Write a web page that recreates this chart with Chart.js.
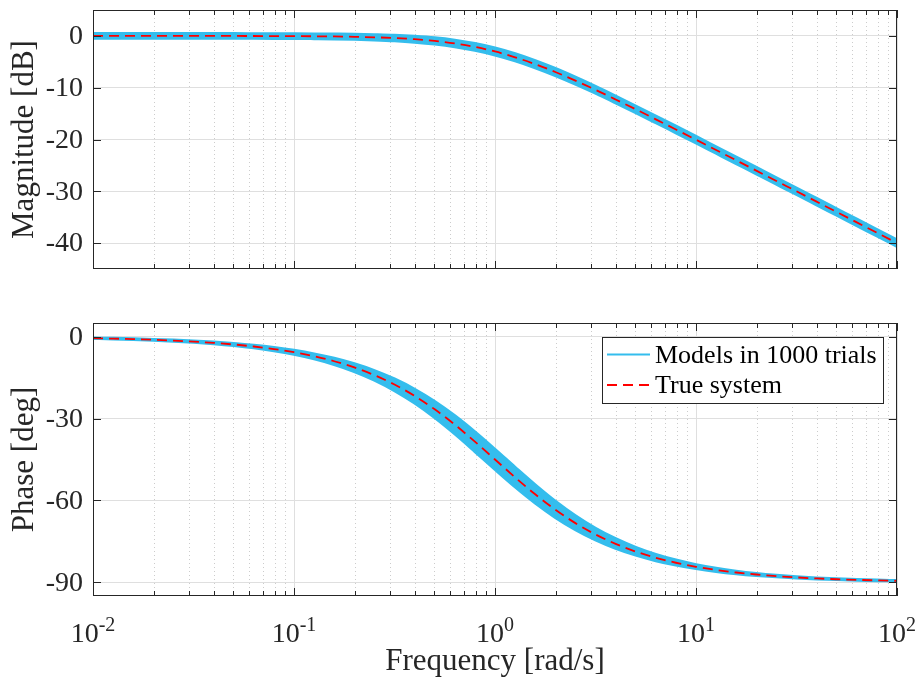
<!DOCTYPE html>
<html>
<head>
<meta charset="utf-8">
<script src="https://cdn.jsdelivr.net/npm/chart.js@4/dist/chart.umd.min.js"></script>
<style>
  html, body { margin: 0; padding: 0; background: #ffffff; }
  #wrap { position: relative; width: 921px; height: 690px; background: #ffffff; }
  .pane { position: absolute; left: 0; width: 921px; }
</style>
</head>
<body>
<div id="wrap">
  <div class="pane" style="top:0;height:300px"><canvas id="magChart" width="921" height="300"></canvas></div>
  <div class="pane" style="top:300px;height:390px"><canvas id="phaseChart" width="921" height="390"></canvas></div>
</div>
<script>
// ---------------- data ----------------
const freq = [0.01, 0.01259, 0.01585, 0.01995, 0.02512, 0.03162, 0.03981, 0.05012, 0.0631, 0.07943,
  0.1, 0.1259, 0.1585, 0.1995, 0.2512, 0.3162, 0.3981, 0.5012, 0.631, 0.7943,
  1, 1.259, 1.585, 1.995, 2.512, 3.162, 3.981, 5.012, 6.31, 7.943,
  10, 12.59, 15.85, 19.95, 25.12, 31.62, 39.81, 50.12, 63.1, 79.43, 100];

const magTrue = [0, 0, 0, 0, 0, 0, -0.01, -0.01, -0.02, -0.03,
  -0.04, -0.07, -0.11, -0.17, -0.27, -0.41, -0.64, -0.97, -1.46, -2.13,
  -3.01, -4.13, -5.46, -6.97, -8.64, -10.41, -12.27, -14.17, -16.11, -18.07,
  -20.04, -22.03, -24.02, -26.01, -28.01, -30.0, -32.0, -34.0, -36.0, -38.0, -40.0];
const magUpper = [0.45, 0.45, 0.45, 0.45, 0.45, 0.45, 0.44, 0.44, 0.43, 0.42,
  0.41, 0.39, 0.36, 0.32, 0.24, 0.13, -0.07, -0.36, -0.82, -1.46,
  -2.33, -3.44, -4.77, -6.29, -7.97, -9.75, -11.62, -13.53, -15.47, -17.43,
  -19.41, -21.40, -23.39, -25.38, -27.39, -29.38, -31.38, -33.38, -35.38, -37.38, -39.38];
const magLower = [-0.45, -0.45, -0.45, -0.45, -0.45, -0.46, -0.46, -0.46, -0.47, -0.48,
  -0.49, -0.53, -0.58, -0.66, -0.78, -0.95, -1.21, -1.58, -2.10, -2.80,
  -3.69, -4.82, -6.15, -7.65, -9.31, -11.07, -12.92, -14.81, -16.75, -18.71,
  -20.67, -22.66, -24.65, -26.64, -28.63, -30.62, -32.62, -34.62, -36.62, -38.62, -40.62];

const phaseTrue = [-0.57, -0.72, -0.91, -1.14, -1.44, -1.81, -2.28, -2.87, -3.61, -4.54,
  -5.71, -7.18, -9.01, -11.28, -14.10, -17.55, -21.70, -26.62, -32.25, -38.46,
  -45.0, -51.54, -57.75, -63.38, -68.30, -72.45, -75.90, -78.72, -80.99, -82.82,
  -84.29, -85.46, -86.39, -87.13, -87.72, -88.19, -88.56, -88.86, -89.09, -89.28, -89.43];
const phaseUpper = [-0.50, -0.63, -0.80, -1.00, -1.26, -1.59, -2.00, -2.52, -3.17, -3.99,
  -5.01, -6.30, -7.91, -9.93, -12.42, -15.50, -19.25, -23.73, -28.96, -34.87,
  -41.26, -47.84, -54.27, -60.26, -65.58, -70.17, -74.02, -77.18, -79.76, -81.83,
  -83.50, -84.83, -85.89, -86.73, -87.40, -87.94, -88.36, -88.70, -88.96, -89.18, -89.35];
const phaseLower = [-0.65, -0.82, -1.03, -1.30, -1.64, -2.06, -2.59, -3.26, -4.10, -5.16,
  -6.48, -8.14, -10.21, -12.77, -15.93, -19.77, -24.34, -29.66, -35.64, -42.07,
  -48.65, -55.05, -60.96, -66.20, -70.69, -74.45, -77.54, -80.04, -82.06, -83.68,
  -84.97, -86.00, -86.82, -87.47, -87.99, -88.41, -88.73, -88.99, -89.20, -89.37, -89.50];

const xTicks = [0.01, 0.1, 1, 10, 100];
const xTickExponents = ['-2', '-1', '0', '1', '2'];
const magTicks = [0, -10, -20, -30, -40];
const phaseTicks = [0, -30, -60, -90];
const seriesNames = ['Models in 1000 trials', 'True system'];
const axisTitles = { mag: 'Magnitude [dB]', phase: 'Phase [deg]', freq: 'Frequency [rad/s]' };

// ---------------- styling ----------------
const FONT = "'Liberation Serif', 'Times New Roman', Times, serif";
const AX = '#262626';
const BAND = 'rgb(52,189,237)';
const RED = '#ff0000';
const GRID = '#dfdfdf';
const MINOR = '#cccccc';

const pts = arr => freq.map((f, i) => ({ x: f, y: arr[i] }));

function datasets(upper, lower, truth) {
  return [
    { label: seriesNames[0], data: pts(upper), borderColor: BAND, backgroundColor: BAND,
      borderWidth: 3, pointRadius: 0, fill: false, cubicInterpolationMode: 'monotone', order: 2 },
    { label: seriesNames[0] + ' (lower)', data: pts(lower), borderColor: BAND, backgroundColor: BAND,
      borderWidth: 3, pointRadius: 0, fill: '-1', cubicInterpolationMode: 'monotone', order: 1 },
    { label: seriesNames[1], data: pts(truth), borderColor: RED, borderWidth: 1.8,
      borderDash: [10, 6], pointRadius: 0, fill: false, cubicInterpolationMode: 'monotone', order: 0 }
  ];
}

function decoPlugin(yTicks, isBottom) {
  return {
    id: 'deco',
    beforeDatasetsDraw(chart) {
      const { ctx, chartArea: a, scales: { x } } = chart;
      ctx.save();
      ctx.strokeStyle = MINOR; ctx.lineWidth = 1; ctx.setLineDash([1, 3]);
      for (let k = 0; k < xTicks.length - 1; k++) {
        for (let m = 2; m <= 9; m++) {
          const px = Math.round(x.getPixelForValue(xTicks[k] * m)) + 0.5;
          ctx.beginPath(); ctx.moveTo(px, a.top); ctx.lineTo(px, a.bottom); ctx.stroke();
        }
      }
      ctx.restore();
    },
    afterDatasetsDraw(chart) {
      const { ctx, chartArea: a, scales: { x, y } } = chart;
      ctx.save();
      ctx.strokeStyle = AX; ctx.lineWidth = 1; ctx.setLineDash([]);
      ctx.strokeRect(a.left + 0.5, a.top + 0.5, a.width - 1, a.height - 1);
      ctx.beginPath();
      for (let k = 0; k < xTicks.length; k++) {
        for (let m = 1; m <= 9; m++) {
          if (k === xTicks.length - 1 && m > 1) break;
          const len = m === 1 ? 8 : 5;
          const px = Math.round(x.getPixelForValue(xTicks[k] * m)) + 0.5;
          ctx.moveTo(px, a.bottom); ctx.lineTo(px, a.bottom - len);
          ctx.moveTo(px, a.top); ctx.lineTo(px, a.top + len);
        }
      }
      for (const v of yTicks) {
        const py = Math.round(y.getPixelForValue(v)) + 0.5;
        ctx.moveTo(a.left, py); ctx.lineTo(a.left + 8, py);
        ctx.moveTo(a.right, py); ctx.lineTo(a.right - 8, py);
      }
      ctx.stroke();
      ctx.restore();
    },
    afterDraw(chart) {
      if (!isBottom) return;
      const { ctx, chartArea: a, scales: { x } } = chart;
      ctx.save();
      // x tick labels with superscript exponents
      ctx.fillStyle = AX;
      ctx.textBaseline = 'alphabetic';
      ctx.textAlign = 'left';
      for (let i = 0; i < xTicks.length; i++) {
        const px = x.getPixelForValue(xTicks[i]);
        ctx.font = '28px ' + FONT;
        const w1 = ctx.measureText('10').width;
        ctx.font = '20px ' + FONT;
        const w2 = ctx.measureText(xTickExponents[i]).width;
        const start = px - (w1 + w2) / 2;
        ctx.font = '28px ' + FONT;
        ctx.fillText('10', start, a.bottom + 45.7);
        ctx.font = '20px ' + FONT;
        ctx.fillText(xTickExponents[i], start + w1, a.bottom + 34.5);
      }
      // legend box
      const L = { w: 281, h: 66 };
      L.x = a.right - 14 - L.w; L.y = a.top + 14;
      ctx.fillStyle = '#ffffff';
      ctx.fillRect(L.x, L.y, L.w, L.h);
      ctx.strokeStyle = AX; ctx.lineWidth = 1;
      ctx.strokeRect(L.x + 0.5, L.y + 0.5, L.w, L.h);
      ctx.lineWidth = 2; ctx.strokeStyle = BAND; ctx.setLineDash([]);
      ctx.beginPath(); ctx.moveTo(L.x + 5, L.y + 17.5); ctx.lineTo(L.x + 48, L.y + 17.5); ctx.stroke();
      ctx.lineWidth = 1.8; ctx.strokeStyle = RED; ctx.setLineDash([10, 6]);
      ctx.beginPath(); ctx.moveTo(L.x + 5, L.y + 48); ctx.lineTo(L.x + 48, L.y + 48); ctx.stroke();
      ctx.setLineDash([]);
      ctx.fillStyle = '#000000';
      ctx.font = '26px ' + FONT;
      ctx.textBaseline = 'middle';
      ctx.fillText(seriesNames[0], L.x + 53, L.y + 19.5);
      ctx.fillText(seriesNames[1], L.x + 53, L.y + 49.5);
      ctx.restore();
    }
  };
}

function makeChart(canvasId, cfg) {
  return new Chart(document.getElementById(canvasId), {
    type: 'line',
    data: { datasets: datasets(cfg.upper, cfg.lower, cfg.truth) },
    plugins: [decoPlugin(cfg.yTicks, cfg.bottom)],
    options: {
      responsive: false,
      animation: false,
      devicePixelRatio: 1,
      layout: { padding: cfg.padding },
      plugins: { legend: { display: false }, tooltip: { enabled: false } },
      scales: {
        x: {
          type: 'logarithmic', min: 0.01, max: 100,
          afterBuildTicks: s => { s.ticks = xTicks.map(v => ({ value: v })); },
          ticks: { display: false },
          grid: { color: GRID, lineWidth: 1, drawTicks: false },
          border: { display: false },
          title: cfg.bottom ? {
            display: true, text: axisTitles.freq, color: AX,
            font: { family: FONT, size: 31, weight: 'normal' }, padding: { top: 0, bottom: 10 }
          } : { display: false },
          afterFit: s => { s.height = cfg.xHeight; s.paddingLeft = 0; s.paddingRight = 0; }
        },
        y: {
          type: 'linear', min: cfg.yMin, max: cfg.yMax,
          afterBuildTicks: s => { s.ticks = cfg.yTicks.map(v => ({ value: v })); },
          ticks: {
            color: AX, font: { family: FONT, size: 28 }, padding: 10, labelOffset: 1,
            callback: v => String(v)
          },
          grid: { color: GRID, lineWidth: 1, drawTicks: false },
          border: { display: false },
          title: {
            display: true, text: cfg.title, color: AX,
            font: { family: FONT, size: 31, weight: 'normal' }, padding: { top: 6, bottom: 0 }
          },
          afterFit: s => { s.width = 93; s.paddingTop = 0; s.paddingBottom = 0; }
        }
      }
    }
  });
}

makeChart('magChart', {
  upper: magUpper, lower: magLower, truth: magTrue,
  yMin: -45, yMax: 5, yTicks: magTicks, title: axisTitles.mag, bottom: false,
  padding: { top: 10, right: 24, bottom: 31, left: 0 }, xHeight: 0
});
makeChart('phaseChart', {
  upper: phaseUpper, lower: phaseLower, truth: phaseTrue,
  yMin: -95, yMax: 5, yTicks: phaseTicks, title: axisTitles.phase, bottom: true,
  padding: { top: 23, right: 24, bottom: 0, left: 0 }, xHeight: 94
});
</script>
</body>
</html>
